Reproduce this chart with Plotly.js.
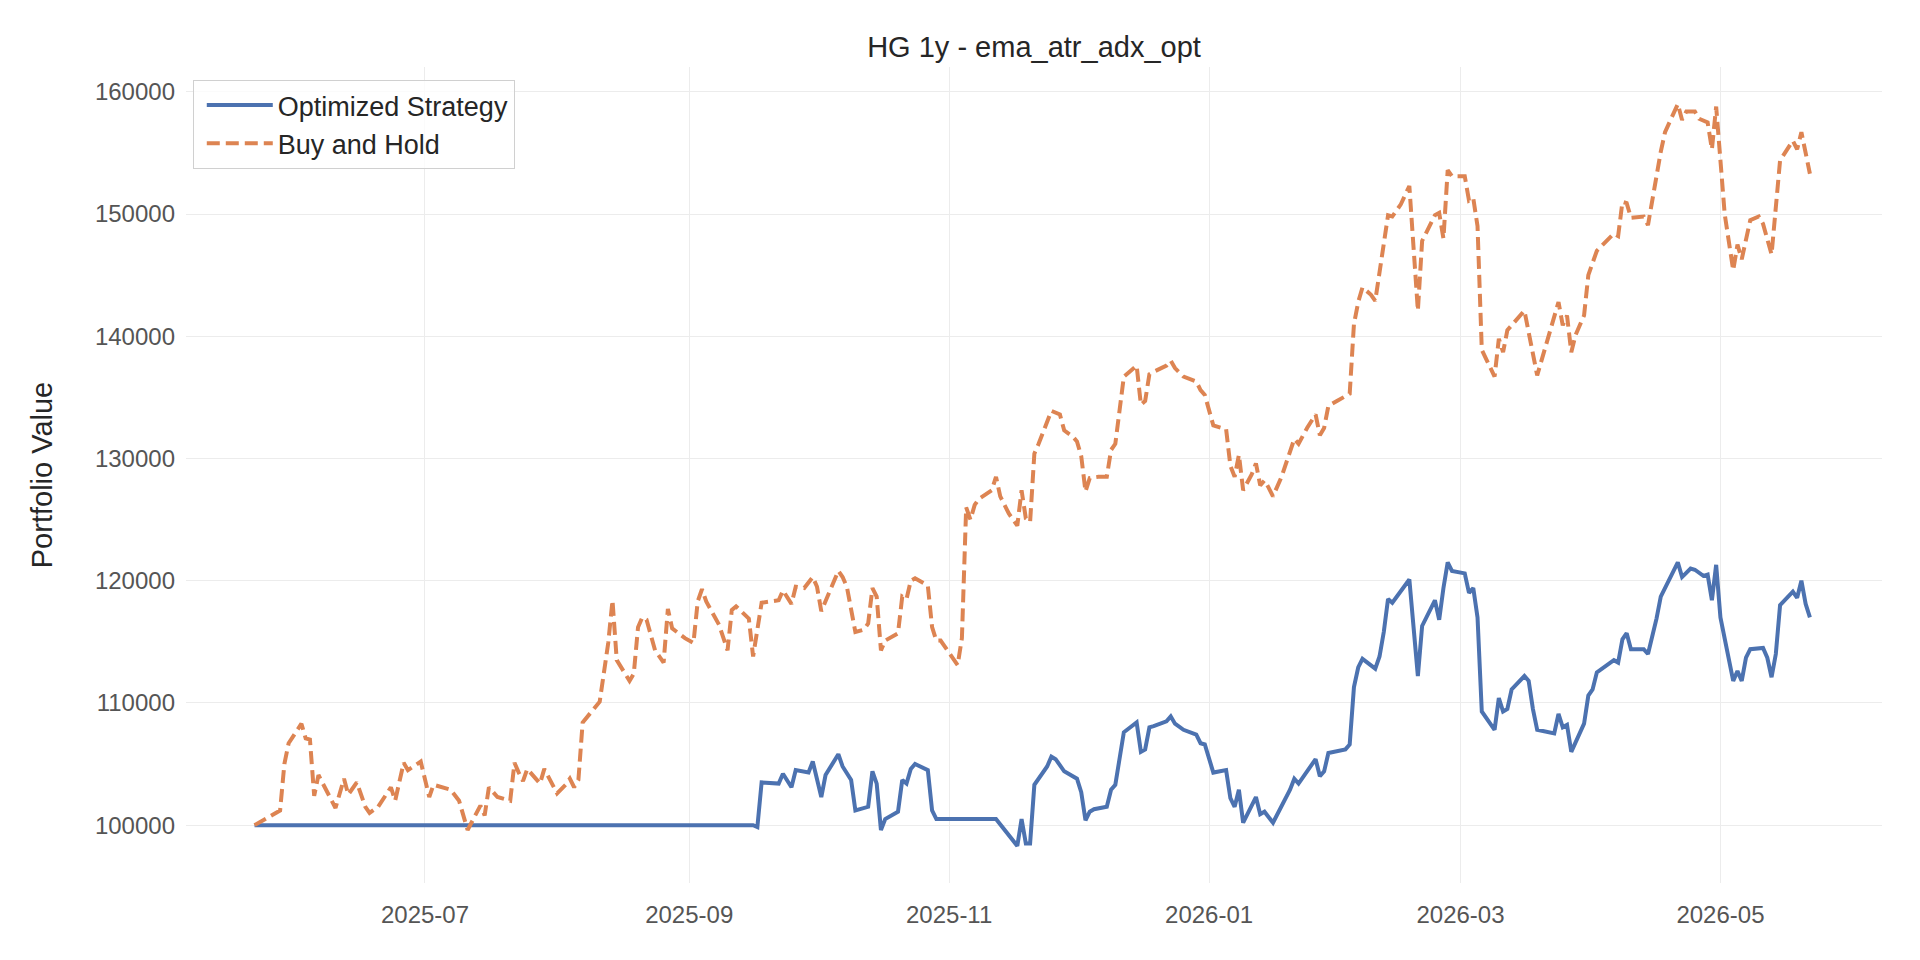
<!DOCTYPE html>
<html>
<head>
<meta charset="utf-8">
<script src="https://cdn.plot.ly/plotly-3.0.1.min.js"></script>
<style>
  html, body { margin: 0; padding: 0; background: #fff; }
  #chart { width: 1920px; height: 960px; }
</style>
</head>
<body>
<div id="chart"></div>
<script>
// values (turning points of each curve)
const strategyDates = [
  '2025-05-22', '2025-09-16', '2025-09-17', '2025-09-18', '2025-09-22', '2025-09-23', '2025-09-25', '2025-09-26',
  '2025-09-29', '2025-09-30', '2025-10-02', '2025-10-03', '2025-10-06', '2025-10-07', '2025-10-09', '2025-10-10',
  '2025-10-13', '2025-10-14', '2025-10-15', '2025-10-16', '2025-10-17', '2025-10-20', '2025-10-21', '2025-10-22',
  '2025-10-23', '2025-10-24', '2025-10-27', '2025-10-28', '2025-10-29', '2025-11-12', '2025-11-17', '2025-11-18',
  '2025-11-19', '2025-11-20', '2025-11-21', '2025-11-24', '2025-11-25', '2025-11-26', '2025-11-28', '2025-12-01',
  '2025-12-02', '2025-12-03', '2025-12-04', '2025-12-05', '2025-12-08', '2025-12-09', '2025-12-10', '2025-12-12',
  '2025-12-15', '2025-12-16', '2025-12-17', '2025-12-18', '2025-12-19', '2025-12-22', '2025-12-23', '2025-12-24',
  '2025-12-26', '2025-12-29', '2025-12-30', '2025-12-31', '2026-01-02', '2026-01-05', '2026-01-06', '2026-01-07',
  '2026-01-08', '2026-01-09', '2026-01-12', '2026-01-13', '2026-01-14', '2026-01-16', '2026-01-20', '2026-01-21',
  '2026-01-22', '2026-01-26', '2026-01-27', '2026-01-28', '2026-01-29', '2026-02-02', '2026-02-03', '2026-02-04',
  '2026-02-05', '2026-02-06', '2026-02-09', '2026-02-10', '2026-02-11', '2026-02-12', '2026-02-13', '2026-02-17',
  '2026-02-19', '2026-02-20', '2026-02-23', '2026-02-24', '2026-02-25', '2026-02-26', '2026-02-27', '2026-03-02',
  '2026-03-03', '2026-03-04', '2026-03-05', '2026-03-06', '2026-03-09', '2026-03-10', '2026-03-11', '2026-03-12',
  '2026-03-13', '2026-03-16', '2026-03-17', '2026-03-18', '2026-03-19', '2026-03-23', '2026-03-24', '2026-03-25',
  '2026-03-26', '2026-03-27', '2026-03-30', '2026-03-31', '2026-04-01', '2026-04-02', '2026-04-06', '2026-04-07',
  '2026-04-08', '2026-04-09', '2026-04-10', '2026-04-13', '2026-04-14', '2026-04-16', '2026-04-17', '2026-04-21',
  '2026-04-22', '2026-04-24', '2026-04-25', '2026-04-27', '2026-04-28', '2026-04-29', '2026-04-30', '2026-05-01',
  '2026-05-04', '2026-05-05', '2026-05-06', '2026-05-07', '2026-05-08', '2026-05-11', '2026-05-12', '2026-05-13',
  '2026-05-14', '2026-05-15', '2026-05-18', '2026-05-19', '2026-05-20', '2026-05-21', '2026-05-22',
];
const strategy = [
  100000, 100000, 99850, 103500, 103400, 104200, 103100, 104500,
  104300, 105200, 102300, 104100, 105800, 104800, 103700, 101200,
  101500, 104400, 103400, 99600, 100500, 101100, 103700, 103400,
  104600, 105000, 104500, 101200, 100500, 100500, 98300, 100500,
  98500, 98500, 103300, 104800, 105600, 105400, 104400, 103800,
  102700, 100400, 101100, 101300, 101500, 102900, 103300, 107600,
  108400, 106000, 106200, 108000, 108100, 108500, 108900, 108300,
  107800, 107400, 106700, 106600, 104300, 104500, 102200, 101500,
  102900, 100200, 102300, 100900, 101100, 100200, 102900, 103800,
  103400, 105400, 104000, 104400, 105900, 106200, 106600, 111300,
  112900, 113600, 112800, 113800, 115800, 118500, 118200, 120100,
  112200, 116300, 118400, 116800, 119400, 121500, 120800, 120600,
  119000, 119400, 117000, 109300, 107800, 110400, 109300, 109500,
  111100, 112200, 111800, 109500, 107800, 107500, 109100, 108000,
  108200, 106000, 108300, 110600, 111100, 112500, 113500, 113300,
  115200, 115700, 114400, 114400, 114000, 116900, 118700, 121500,
  120300, 121000, 120900, 120400, 120500, 118400, 121300, 117000,
  111800, 112600, 111800, 113700, 114400, 114500, 113700, 112100,
  114000, 118000, 119100, 118600, 120000, 118100, 117000,
];

const buyHoldDates = [
  '2025-05-22', '2025-05-27', '2025-05-28', '2025-05-29', '2025-05-30', '2025-06-02', '2025-06-03', '2025-06-04',
  '2025-06-05', '2025-06-06', '2025-06-09', '2025-06-10', '2025-06-12', '2025-06-13', '2025-06-15', '2025-06-17',
  '2025-06-18', '2025-06-20', '2025-06-23', '2025-06-24', '2025-06-26', '2025-06-27', '2025-06-30', '2025-07-02',
  '2025-07-03', '2025-07-07', '2025-07-09', '2025-07-11', '2025-07-14', '2025-07-15', '2025-07-16', '2025-07-18',
  '2025-07-21', '2025-07-22', '2025-07-23', '2025-07-24', '2025-07-25', '2025-07-26', '2025-07-28', '2025-07-29',
  '2025-07-30', '2025-08-01', '2025-08-03', '2025-08-04', '2025-08-05', '2025-08-06', '2025-08-07', '2025-08-11',
  '2025-08-13', '2025-08-14', '2025-08-15', '2025-08-18', '2025-08-19', '2025-08-20', '2025-08-21', '2025-08-22',
  '2025-08-24', '2025-08-26', '2025-08-27', '2025-08-28', '2025-08-31', '2025-09-02', '2025-09-03', '2025-09-04',
  '2025-09-05', '2025-09-08', '2025-09-10', '2025-09-11', '2025-09-12', '2025-09-13', '2025-09-15', '2025-09-16',
  '2025-09-17', '2025-09-18', '2025-09-22', '2025-09-23', '2025-09-25', '2025-09-26', '2025-09-28', '2025-09-30',
  '2025-10-01', '2025-10-02', '2025-10-06', '2025-10-07', '2025-10-08', '2025-10-10', '2025-10-12', '2025-10-13',
  '2025-10-14', '2025-10-15', '2025-10-16', '2025-10-17', '2025-10-20', '2025-10-21', '2025-10-22', '2025-10-23',
  '2025-10-24', '2025-10-27', '2025-10-28', '2025-10-29', '2025-10-30', '2025-11-03', '2025-11-04', '2025-11-05',
  '2025-11-06', '2025-11-07', '2025-11-08', '2025-11-11', '2025-11-12', '2025-11-13', '2025-11-15', '2025-11-17',
  '2025-11-18', '2025-11-19', '2025-11-20', '2025-11-21', '2025-11-22', '2025-11-25', '2025-11-27', '2025-11-28',
  '2025-11-30', '2025-12-01', '2025-12-02', '2025-12-03', '2025-12-04', '2025-12-06', '2025-12-08', '2025-12-09',
  '2025-12-10', '2025-12-12', '2025-12-15', '2025-12-16', '2025-12-17', '2025-12-18', '2025-12-19', '2025-12-22',
  '2025-12-23', '2025-12-24', '2025-12-26', '2025-12-29', '2025-12-30', '2025-12-31', '2026-01-02', '2026-01-05',
  '2026-01-06', '2026-01-07', '2026-01-08', '2026-01-09', '2026-01-11', '2026-01-12', '2026-01-13', '2026-01-14',
  '2026-01-15', '2026-01-16', '2026-01-18', '2026-01-21', '2026-01-22', '2026-01-24', '2026-01-26', '2026-01-27',
  '2026-01-28', '2026-01-29', '2026-01-31', '2026-02-03', '2026-02-04', '2026-02-05', '2026-02-06', '2026-02-08',
  '2026-02-09', '2026-02-12', '2026-02-13', '2026-02-15', '2026-02-17', '2026-02-19', '2026-02-20', '2026-02-23',
  '2026-02-24', '2026-02-25', '2026-02-26', '2026-02-27', '2026-03-02', '2026-03-03', '2026-03-04', '2026-03-05',
  '2026-03-06', '2026-03-09', '2026-03-10', '2026-03-11', '2026-03-12', '2026-03-16', '2026-03-19', '2026-03-24',
  '2026-03-25', '2026-03-26', '2026-03-27', '2026-03-28', '2026-03-30', '2026-03-31', '2026-04-02', '2026-04-06',
  '2026-04-07', '2026-04-08', '2026-04-09', '2026-04-10', '2026-04-13', '2026-04-14', '2026-04-17', '2026-04-18',
  '2026-04-21', '2026-04-22', '2026-04-23', '2026-04-25', '2026-04-26', '2026-04-28', '2026-04-29', '2026-04-30',
  '2026-05-02', '2026-05-03', '2026-05-04', '2026-05-05', '2026-05-06', '2026-05-08', '2026-05-10', '2026-05-11',
  '2026-05-13', '2026-05-15', '2026-05-18', '2026-05-19', '2026-05-20', '2026-05-22',
];
const buyHold = [
  100000, 101000, 101200, 105000, 106700, 108300, 107100, 107000,
  102400, 104100, 102100, 101400, 103800, 102500, 103500, 101500,
  101000, 101500, 103100, 102000, 105100, 104500, 105200, 102300,
  103300, 102900, 102000, 99600, 101600, 100800, 103100, 102300,
  102000, 105100, 104300, 103600, 104600, 104200, 103400, 104600,
  103900, 102600, 103300, 103800, 103100, 103700, 108400, 110100,
  114900, 118400, 113500, 111800, 112400, 116200, 117000, 116800,
  114300, 113300, 117700, 116100, 115300, 114900, 118300, 119300,
  118300, 116400, 114300, 117600, 117900, 117600, 116900, 113800,
  116000, 118200, 118400, 119200, 118100, 119500, 119400, 120300,
  119500, 117500, 120800, 120300, 119500, 115800, 116000, 116500,
  119400, 118700, 114300, 115100, 115700, 118700, 118500, 120000,
  120200, 119600, 116200, 115100, 115100, 113100, 115300, 126000,
  125000, 126200, 126700, 127400, 128500, 126900, 125500, 124500,
  127400, 125100, 124800, 130400, 131200, 133900, 133600, 132300,
  131800, 131400, 130200, 127300, 128400, 128500, 128500, 130700,
  131200, 136700, 137600, 134400, 134700, 136900, 137100, 137600,
  138000, 137400, 136700, 136300, 135600, 135200, 132700, 132400,
  129400, 128500, 130300, 127400, 128700, 129600, 127800, 128200,
  127600, 126900, 128500, 131600, 131200, 132500, 133600, 131900,
  132500, 134300, 134700, 135300, 141000, 142800, 144000, 143400,
  142900, 149900, 149800, 150800, 152300, 142100, 147800, 149900,
  150100, 148000, 153600, 153100, 153100, 151100, 151300, 149000,
  138900, 136700, 139800, 138700, 140500, 142100, 136800, 142800,
  140900, 141700, 138700, 140100, 141700, 145000, 147000, 148400,
  148200, 151000, 150900, 149700, 149800, 149100, 155100, 156700,
  159000, 157700, 158400, 158400, 157800, 157500, 155300, 158800,
  150000, 147800, 145400, 147500, 146300, 149500, 149800, 149200,
  146700, 154400, 156000, 155300, 156700, 153300,
];

const yTicks = [100000, 110000, 120000, 130000, 140000, 150000, 160000];

const fontFamily = '"Liberation Sans", Arial, "DejaVu Sans", sans-serif';

const traces = [
  {
    x: strategyDates,
    y: strategy,
    name: 'Optimized Strategy',
    legendgroup: 'a',
    mode: 'lines',
    line: { color: '#4c72b0', width: 4 },
  },
  {
    x: buyHoldDates,
    y: buyHold,
    name: 'Buy and Hold',
    legendgroup: 'b',
    mode: 'lines',
    line: { color: '#dd8452', width: 4, dash: '13px,6px' },
  },
];

const layout = {
  width: 1920,
  height: 960,
  paper_bgcolor: '#fff',
  plot_bgcolor: '#fff',
  font: { family: fontFamily, size: 24, color: '#555' },
  margin: { l: 186, r: 38, t: 67, b: 77, pad: 0 },
  showlegend: true,
  title: {
    text: 'HG 1y - ema_atr_adx_opt',
    font: { family: fontFamily, size: 29, color: '#262626' },
    x: 0.5,
    xref: 'paper',
    y: 1 - 47 / 960,
    yref: 'container',
    yanchor: 'middle',
  },
  xaxis: {
    type: 'date',
    range: ['2025-05-05 22:00', '2026-06-07 22:00'],
    tick0: '2025-07-01',
    dtick: 'M2',
    tickformat: '%Y-%m',
    showgrid: true,
    gridcolor: '#ececec',
    gridwidth: 1,
    zeroline: false,
    showline: false,
    ticks: '',
    ticklabelstandoff: 15,
    tickfont: { family: fontFamily, size: 24, color: '#555' },
  },
  yaxis: {
    range: [95265, 162035],
    tickvals: yTicks,
    ticktext: yTicks.map(String),
    showgrid: true,
    gridcolor: '#ececec',
    gridwidth: 1,
    zeroline: false,
    showline: false,
    ticks: '',
    ticklabelstandoff: 10,
    tickfont: { family: fontFamily, size: 24, color: '#555' },
    title: {
      text: 'Portfolio Value',
      font: { family: fontFamily, size: 29, color: '#262626' },
      standoff: 33,
    },
    automargin: false,
  },
  legend: {
    x: 0.004,
    y: 0.984,
    xanchor: 'left',
    yanchor: 'top',
    bgcolor: 'rgba(255,255,255,0.8)',
    bordercolor: '#d0d0d0',
    borderwidth: 1,
    tracegroupgap: 0,
    indentation: 8,
    itemwidth: 66,
    font: { family: fontFamily, size: 27, color: '#262626' },
  },
};

Plotly.newPlot('chart', traces, layout, { displayModeBar: false, staticPlot: true });
</script>
</body>
</html>
